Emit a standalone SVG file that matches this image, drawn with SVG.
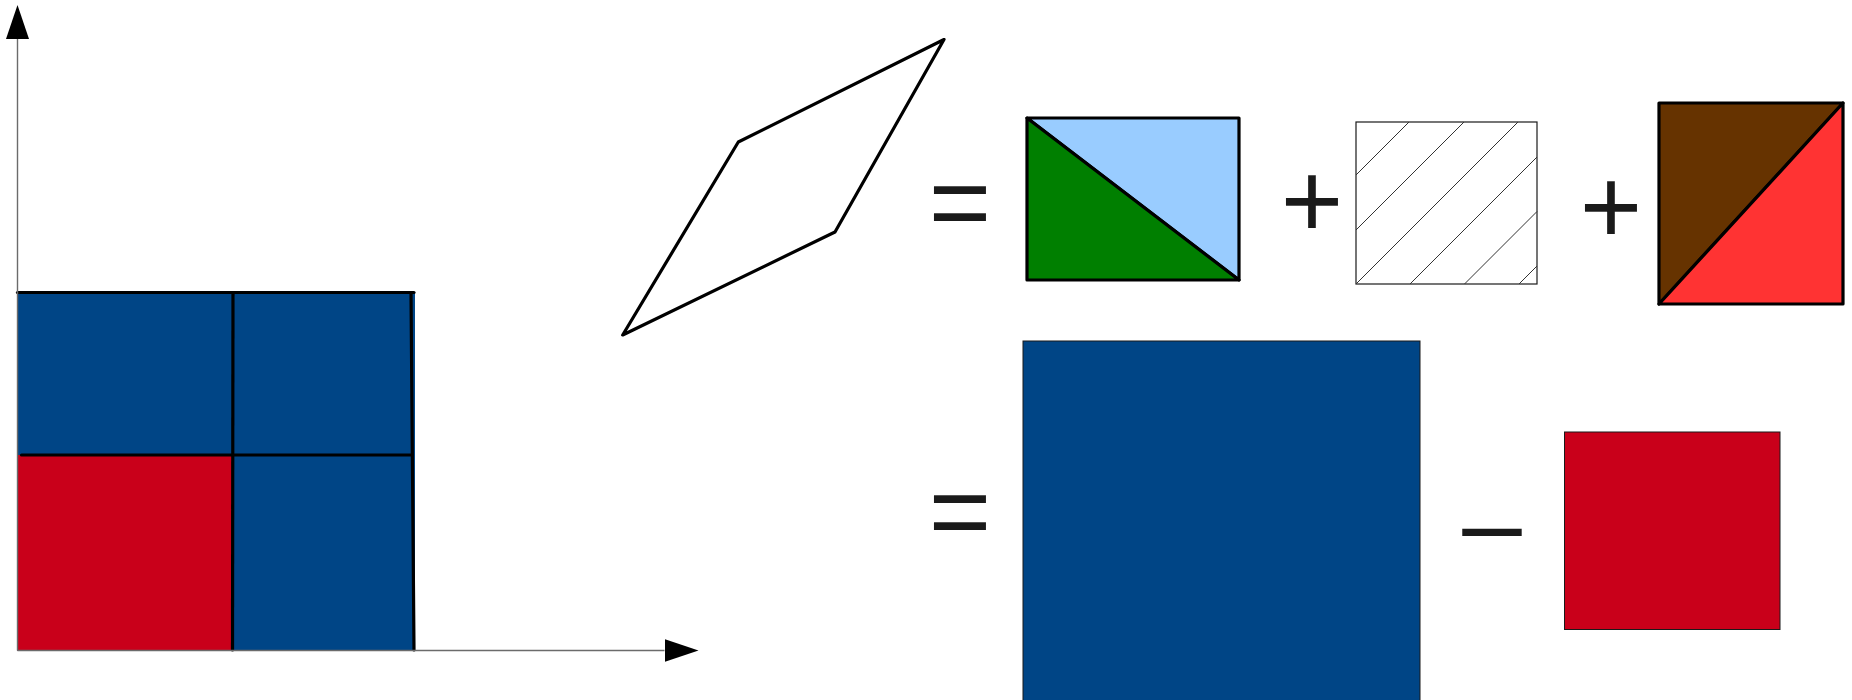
<svg xmlns="http://www.w3.org/2000/svg" width="1852" height="700" viewBox="0 0 1852 700">
  <style>
    .axis { stroke: #6b6b6b; stroke-width: 1.4; fill: none; }
    .edge { stroke: #000; stroke-width: 3.2; fill: none; stroke-linecap: round; stroke-linejoin: round; }
    .shape { stroke: #000; stroke-width: 3.2; stroke-linejoin: round; }
    .thin { stroke: #1a1a1a; stroke-width: 1; }
    .hatch { stroke: #333; stroke-width: 1; fill: none; }
    .op { font-family: "Liberation Sans", Arial, sans-serif; font-size: 107px; fill: #1a1a1a; text-anchor: middle; }
    .blue { fill: #004586; }
    .red { fill: #c9001a; }
  </style>
  <defs>
    <marker id="arrow" markerUnits="userSpaceOnUse" markerWidth="34" markerHeight="23" refX="0" refY="11.5" orient="auto" viewBox="0 0 34 23">
      <path d="M0,0 L34,11.5 L0,23 z" fill="#000"/>
    </marker>
  </defs>
  <rect width="1852" height="700" fill="#fff"/>

  <g id="composite-square">
    <rect class="blue" x="17.5" y="292.5" width="397.5" height="358.5"/>
    <rect class="red" x="17.5" y="455" width="215" height="196"/>
    <line class="edge" x1="17.5" y1="292.5" x2="414" y2="292.5"/>
    <line class="edge" x1="233" y1="292.5" x2="232.5" y2="650"/>
    <line class="edge" x1="21.5" y1="455" x2="411.5" y2="455"/>
    <line class="edge" x1="411" y1="292.5" x2="414" y2="650"/>
  </g>

  <g id="connectors">
    <line id="y-axis" class="axis" x1="17.5" y1="650.5" x2="17.5" y2="39" marker-end="url(#arrow)"/>
    <line id="x-axis" class="axis" x1="17.5" y1="650.5" x2="664.5" y2="650.5" marker-end="url(#arrow)"/>
  </g>

  <g id="parallelogram">
    <polygon points="944,39.5 738.3,142 622.7,335 835,232" fill="#fff" stroke="#000" stroke-width="3.2" stroke-linejoin="round"/>
  </g>

  <g id="op-equals-1"><text class="op" x="960" y="239">=</text></g>

  <g id="green-blue-rect">
    <polygon class="shape" points="1027,118 1239,118 1239,280" fill="#99ccff"/>
    <polygon class="shape" points="1027,118 1239,280 1027,280" fill="#007f00"/>
  </g>

  <g id="op-plus-1"><text class="op" x="1312" y="237">+</text></g>

  <g id="hatched-rect">
    <rect x="1356" y="122" width="181" height="162" fill="#fff" stroke="#1a1a1a" stroke-width="1.2"/>
    <path class="hatch" d="M1356,175 L1409,122 M1356,230 L1464,122 M1356,284 L1518,122 M1410,284 L1537,157 M1464.5,284 L1537,211.5 M1519,284 L1537,266"/>
  </g>

  <g id="op-plus-2"><text class="op" x="1611" y="243">+</text></g>

  <g id="brown-red-rect">
    <polygon class="shape" points="1659,103 1843,103 1659,304" fill="#663300"/>
    <polygon class="shape" points="1843,103 1843,304 1659,304" fill="#ff3333"/>
  </g>

  <g id="op-equals-2"><text class="op" x="960" y="548">=</text></g>

  <g id="big-blue-rect">
    <rect class="blue thin" x="1023" y="341" width="397" height="362"/>
  </g>

  <g id="op-minus"><text class="op" x="1492" y="560">–</text></g>

  <g id="red-rect">
    <rect class="red thin" x="1564.5" y="432" width="215.5" height="197.5"/>
  </g>
</svg>
